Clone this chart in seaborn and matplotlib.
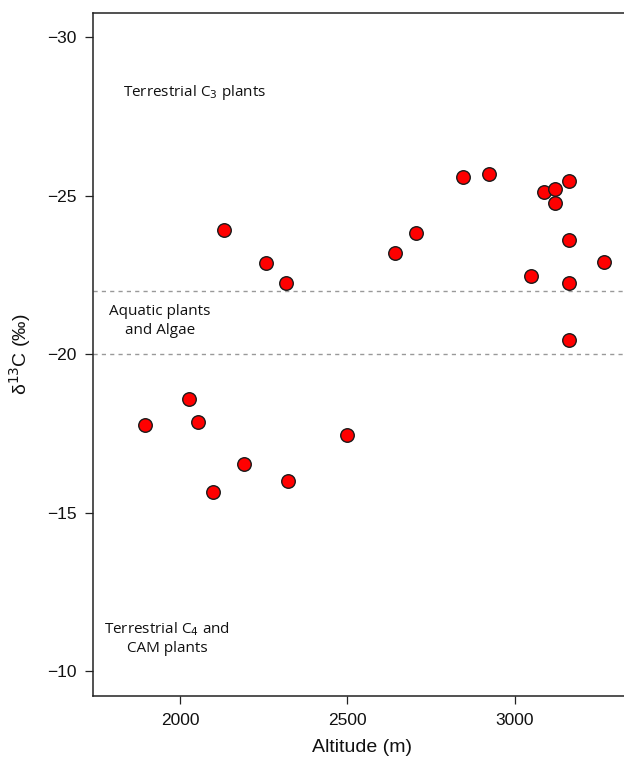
import matplotlib
matplotlib.use("Agg")
import matplotlib.pyplot as plt
import seaborn as sns
import pandas as pd

# Sample altitude (m) and carbon isotope ratio (per mille)
altitude = [1896, 2027, 2053, 2098, 2131, 2190, 2258, 2317, 2324, 2500,
            2642, 2705, 2845, 2924, 3048, 3088, 3119, 3119,
            3161, 3161, 3161, 3161, 3268]
d13c = [-17.77, -18.59, -17.87, -15.66, -23.91, -16.53, -22.89, -22.23, -16.01, -17.46,
        -23.20, -23.83, -25.59, -25.67, -22.48, -25.10, -25.22, -24.77,
        -25.46, -23.60, -22.25, -20.46, -22.91]

# Boundaries between isotope domains
boundaries = [-22, -20]
y_ticks = [-30, -25, -20, -15, -10]
x_ticks = [2000, 2500, 3000]

df = pd.DataFrame({"Altitude": altitude, "d13C": d13c})

sns.set_theme(style="white")
plt.rcParams["font.family"] = ["Liberation Sans", "DejaVu Sans"]

fig = plt.figure(figsize=(6.24, 7.61), dpi=100)
ax = fig.add_axes([93 / 624, 65 / 761, 1 - 93 / 624 + 0.01, 683.5 / 761])

for b in boundaries:
    ax.axhline(b, color="#999999", lw=1.0, ls=(0, (3, 3)), zorder=1)

sns.scatterplot(data=df, x="Altitude", y="d13C", ax=ax, color="#FF0000",
                edgecolor="#1a1a1a", linewidth=1.0, s=95, zorder=3, legend=False)

ax.set_xlim(1740, 3345)
ax.set_ylim(-9.21, -30.78)
ax.set_xticks(x_ticks)
ax.set_yticks(y_ticks)
ax.set_yticklabels([f"\u2212{abs(v)}" for v in y_ticks])
ax.tick_params(axis="both", which="both", direction="out", length=6, width=0.9,
               color="#222222", labelsize=12.5, labelcolor="#111111",
               bottom=True, left=True, pad=6)

for side in ["left", "bottom", "top"]:
    ax.spines[side].set_color("#222222")
    ax.spines[side].set_linewidth(1.1)
ax.spines["right"].set_visible(False)

ax.set_xlabel("Altitude (m)", fontsize=14, labelpad=8, color="#111111")
ax.set_ylabel("\u03b4$^{13}$C (\u2030)", fontsize=14, labelpad=10, color="#111111")

label_font = ["Open Sans", "DejaVu Sans"]
ax.text(2042, -28.27, "Terrestrial C$_3$ plants", fontsize=11, family=label_font,
        ha="center", va="center", color="#111111")
ax.text(1940, -21.04, "Aquatic plants\nand Algae", fontsize=11, family=label_font,
        ha="center", va="center", color="#111111", linespacing=1.3)
ax.text(1962, -11.04, "Terrestrial C$_4$ and\nCAM plants", fontsize=11, family=label_font,
        ha="center", va="center", color="#111111", linespacing=1.3)

fig.savefig("out.png", dpi=100)
